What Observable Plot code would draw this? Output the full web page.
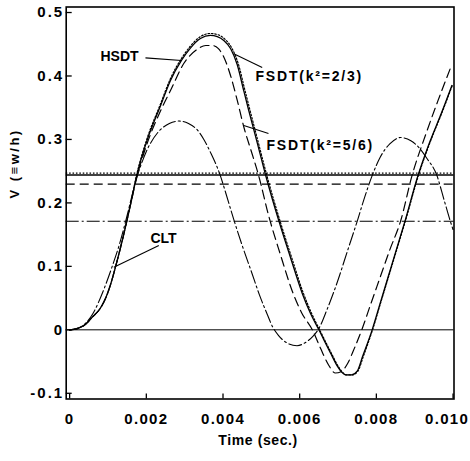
<!DOCTYPE html>
<html>
<head>
<meta charset="utf-8">
<script src="https://cdn.jsdelivr.net/npm/d3@7"></script>
<script src="https://cdn.jsdelivr.net/npm/@observablehq/plot@0.6"></script>
<style>
  html, body { margin: 0; padding: 0; background: #fff; }
  #chart { width: 470px; height: 461px; }
  g[aria-label="x-axis tick label"] text { letter-spacing: 1.3px; }
  g[aria-label="y-axis tick label"] text { letter-spacing: 2px; }
</style>
</head>
<body>
<div id="chart"></div>
<script>
// ---- tick values / labels ----
const xTickValues = [0, 0.002, 0.004, 0.006, 0.008, 0.010];
const xTickLabels = ["0", "0.002", "0.004", "0.006", "0.008", "0.010"];
const yTickValues = [-0.1, 0, 0.1, 0.2, 0.3, 0.4, 0.5];
const yTickLabels = ["-0.1", "0", "0.1", "0.2", "0.3", "0.4", "0.5"];
const xAxisTitle = "Time (sec.)";
const yAxisTitle = "V (≡w/h)";

// ---- series (time in ms, V = w/h) ----
const hsdtTime = [0, 0.2, 0.4, 0.59, 0.8, 0.94, 1.07, 1.2, 1.35, 1.49, 1.62, 1.75, 2.0, 2.37, 2.63, 2.92, 3.15, 3.41, 3.67, 3.85, 4.02, 4.2, 4.37, 4.54, 4.67, 4.9, 5.11, 5.46, 5.76, 6.07, 6.28, 6.5, 6.8, 6.99, 7.1, 7.2, 7.35, 7.5, 7.64, 7.89, 8.1, 8.3, 8.5, 8.76, 9.06, 9.4, 9.7, 9.97];
const hsdtV    = [0, 0.002, 0.008, 0.02, 0.034, 0.05, 0.072, 0.1, 0.135, 0.171, 0.206, 0.243, 0.295, 0.353, 0.393, 0.425, 0.444, 0.459, 0.464, 0.462, 0.456, 0.443, 0.418, 0.377, 0.346, 0.293, 0.244, 0.171, 0.114, 0.057, 0.026, 0, -0.036, -0.058, -0.067, -0.071, -0.071, -0.065, -0.042, 0, 0.042, 0.082, 0.122, 0.174, 0.238, 0.297, 0.342, 0.385];

const fsdt23Time = [0, 0.2, 0.4, 0.59, 0.8, 0.94, 1.07, 1.2, 1.35, 1.49, 1.62, 1.75, 2.0, 2.37, 2.63, 2.92, 3.15, 3.41, 3.67, 3.87, 4.05, 4.23, 4.4, 4.57, 4.7, 4.93, 5.14, 5.49, 5.79, 6.1, 6.31, 6.52, 6.82, 7.01, 7.12, 7.22, 7.37, 7.52, 7.66, 7.9, 8.11, 8.31, 8.51, 8.77, 9.07, 9.41, 9.71, 9.98];
const fsdt23V    = [0, 0.002, 0.008, 0.02, 0.034, 0.05, 0.072, 0.1, 0.136, 0.172, 0.208, 0.245, 0.298, 0.356, 0.396, 0.428, 0.447, 0.462, 0.467, 0.465, 0.458, 0.444, 0.419, 0.378, 0.347, 0.293, 0.244, 0.171, 0.114, 0.057, 0.026, 0, -0.036, -0.058, -0.067, -0.071, -0.071, -0.065, -0.042, 0, 0.042, 0.082, 0.122, 0.174, 0.238, 0.297, 0.342, 0.385];

const fsdt56Time = [0, 0.2, 0.4, 0.59, 0.8, 0.94, 1.07, 1.2, 1.35, 1.49, 1.62, 1.75, 2.0, 2.37, 2.63, 2.98, 3.33, 3.55, 3.72, 3.88, 4.02, 4.2, 4.37, 4.55, 4.75, 4.93, 5.19, 5.5, 5.8, 6.05, 6.33, 6.55, 6.75, 6.93, 7.08, 7.25, 7.42, 7.62, 7.85, 8.1, 8.35, 8.63, 8.93, 9.3, 9.6, 9.93];
const fsdt56V    = [0, 0.002, 0.008, 0.02, 0.034, 0.05, 0.072, 0.1, 0.135, 0.171, 0.206, 0.24, 0.29, 0.345, 0.377, 0.42, 0.442, 0.448, 0.448, 0.443, 0.43, 0.4, 0.362, 0.318, 0.279, 0.243, 0.18, 0.118, 0.062, 0.027, 0, -0.03, -0.055, -0.068, -0.066, -0.053, -0.03, 0, 0.04, 0.083, 0.126, 0.171, 0.243, 0.31, 0.36, 0.412];

const cltTime = [0, 0.3, 0.6, 0.9, 1.11, 1.3, 1.46, 1.6, 1.72, 1.85, 2.0, 2.3, 2.6, 2.85, 3.1, 3.33, 3.5, 3.67, 3.93, 4.07, 4.28, 4.5, 4.75, 4.95, 5.15, 5.3, 5.45, 5.65, 5.93, 6.15, 6.35, 6.5, 6.72, 6.98, 7.25, 7.5, 7.7, 7.89, 8.1, 8.35, 8.63, 8.9, 9.1, 9.32, 9.58, 9.76, 9.93, 10.0];
const cltV    = [0, 0.005, 0.025, 0.065, 0.1, 0.135, 0.171, 0.205, 0.234, 0.258, 0.281, 0.311, 0.325, 0.329, 0.325, 0.315, 0.3, 0.28, 0.243, 0.216, 0.174, 0.133, 0.09, 0.055, 0.025, 0.004, -0.009, -0.02, -0.025, -0.02, -0.01, 0.002, 0.033, 0.075, 0.125, 0.171, 0.21, 0.243, 0.272, 0.293, 0.303, 0.298, 0.288, 0.27, 0.243, 0.206, 0.171, 0.158];

// horizontal reference levels: HSDT, FSDT 2/3, FSDT 5/6, CLT
const levelV = [0.244, 0.2468, 0.2295, 0.1712];

// ---- annotations ----
const labelText = ["HSDT", "FSDT(k²=2/3)", "FSDT(k²=5/6)", "CLT"];
const labelTime = [0.805, 4.847, 5.134, 2.108];
const labelV    = [0.4306, 0.399, 0.2904, 0.1439];
const leaderTime1 = [1.977, 4.281, 4.542, 1.152];
const leaderV1    = [0.4286, 0.4349, 0.3219, 0.0987];
const leaderTime2 = [2.917, 5.022, 5.186, 2.326];
const leaderV2    = [0.4244, 0.4133, 0.3093, 0.1329];

// ---- build tables ----
const toRows = (t, v) => t.map((d, i) => ({t: d / 1000, v: v[i]}));
const series = [
  {rows: toRows(hsdtTime, hsdtV), level: levelV[0], style: {strokeWidth: 1.3}},
  {rows: toRows(fsdt23Time, fsdt23V), level: levelV[1], style: {strokeWidth: 1.2, strokeDasharray: "1.6,1.8"}},
  {rows: toRows(fsdt56Time, fsdt56V), level: levelV[2], style: {strokeWidth: 1.2, strokeDasharray: "9,5"}},
  {rows: toRows(cltTime, cltV), level: levelV[3], style: {strokeWidth: 1.1, strokeDasharray: "13,3,2,3"}}
];
const idx4 = [0, 1, 2, 3];

const marks = [
  Plot.ruleY([0], {stroke: "black", strokeWidth: 1})
];
for (const s of series) {
  marks.push(Plot.ruleY([s.level], {stroke: "black", ...s.style}));
  marks.push(Plot.line(s.rows, {x: "t", y: "v", stroke: "black", curve: "monotone-x", ...s.style}));
}
marks.push(
  Plot.link(idx4, {
    x1: i => leaderTime1[i] / 1000, y1: i => leaderV1[i],
    x2: i => leaderTime2[i] / 1000, y2: i => leaderV2[i],
    stroke: "black", strokeWidth: 1.1
  }),
  Plot.text(idx4, {
    x: i => labelTime[i] / 1000, y: i => labelV[i], text: i => labelText[i],
    textAnchor: "start", fontSize: 14, fontWeight: "bold", fill: "black"
  }),
  Plot.tickX(xTickValues, {x: d => d, insetTop: 387, stroke: "black", strokeWidth: 1.3}),
  Plot.tickY(yTickValues, {y: d => d, insetRight: 381.8, stroke: "black", strokeWidth: 1.3}),
  Plot.axisX({ticks: xTickValues, tickFormat: d => xTickLabels[xTickValues.indexOf(d)], tickSize: 0, tickPadding: 14.4, fontSize: 15, fontWeight: "bold", label: null}),
  Plot.axisY({ticks: yTickValues, tickFormat: d => yTickLabels[yTickValues.indexOf(d)], tickSize: 0, tickPadding: 2, fontSize: 15, fontWeight: "bold", label: null}),
  Plot.text([yAxisTitle], {frameAnchor: "left", dx: -51, dy: -4.5, rotate: -90, fontSize: 13, fontWeight: "bold"}),
  Plot.text([xAxisTitle], {frameAnchor: "bottom", dx: -2, dy: 45.5, fontSize: 14, fontWeight: "bold"}),
  Plot.frame({stroke: "black", strokeWidth: 1.6})
);

const plot = Plot.plot({
  width: 470,
  height: 461,
  marginLeft: 65.7,
  marginRight: 16.5,
  marginTop: 6.5,
  marginBottom: 62.5,
  x: {domain: [-0.00009, 0.010025]},
  y: {domain: [-0.109, 0.5087]},
  style: {fontFamily: "'Liberation Sans', Arial, sans-serif", background: "white", color: "black"},
  marks
});
document.getElementById("chart").appendChild(plot);

const sel = d3.select(plot);
sel.selectAll("text")
  .filter(function() { return this.textContent.startsWith("FSDT"); })
  .style("letter-spacing", "1.8px");
sel.selectAll("text")
  .filter(function() { return this.textContent === yAxisTitle; })
  .style("letter-spacing", "2.5px");
sel.selectAll("text")
  .filter(function() { return this.textContent === xAxisTitle; })
  .style("letter-spacing", "0.6px");
sel.selectAll('g[aria-label="x-axis tick label"] text')
  .filter(function() { return this.textContent === xTickLabels[xTickLabels.length - 1]; })
  .attr("dx", -6);
</script>
</body>
</html>
